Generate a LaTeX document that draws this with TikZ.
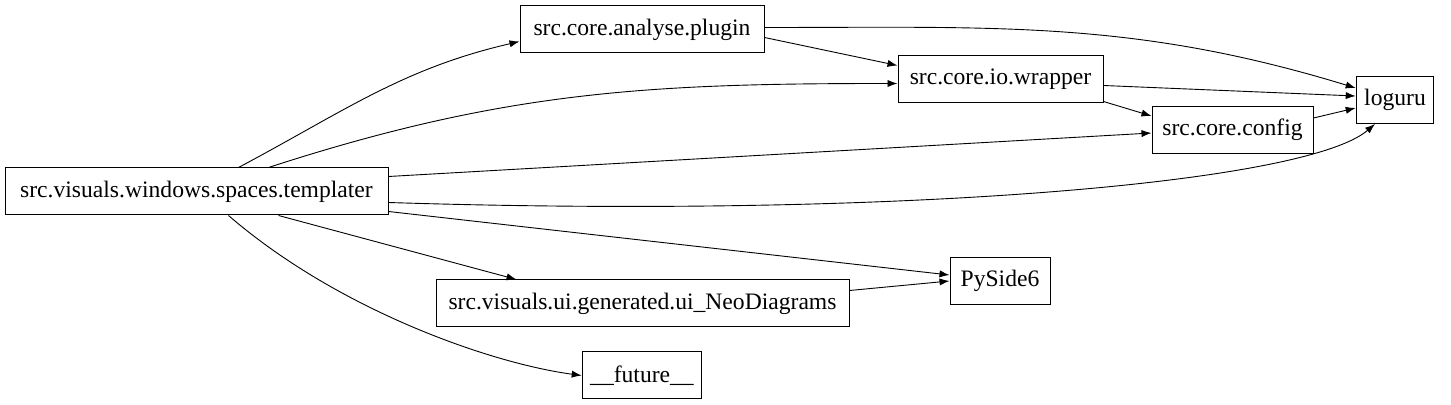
\documentclass[tikz,border=0pt]{standalone}
\usepackage{fontspec}
\setmainfont{Liberation Serif}
\usetikzlibrary{arrows.meta}
\begin{document}
\begin{tikzpicture}[x=0.5pt,y=-0.5pt,
  box/.style={draw,line width=0.5pt,minimum height=23.5pt,inner xsep=4pt,font=\fontsize{11.8}{13}\selectfont},
  e/.style={-{Latex[length=5pt,width=3.6pt]},line width=0.45pt}]
\useasboundingbox (0,0) rectangle (1451,405);
\node[box,minimum width=191.5pt] (t) at (196.5,191.5) {src.visuals.windows.spaces.templater};
\node[box,minimum width=122pt] (p) at (642,29.5) {src.core.analyse.plugin};
\node[box,minimum width=102.5pt] (w) at (1000.5,79.5) {src.core.io.wrapper};
\node[box,minimum width=80.5pt] (c) at (1232.5,130) {src.core.config};
\node[box,minimum width=37pt] (l) at (1395,100) {loguru};
\node[box,minimum width=50pt] (s) at (1000,281) {PySide6};
\node[box,minimum width=206.5pt] (u) at (642.5,303.5) {src.visuals.ui.generated.ui\_NeoDiagrams};
\node[box,minimum width=58pt] (f) at (642,375.5) {\_\_future\_\_};
\draw[e] ([xshift=21pt]t.north) to[out=28,in=193] ([yshift=-6pt]p.west);
\draw[e] ([xshift=36pt]t.north) to[out=18,in=180] ([yshift=-2pt]w.west);
\draw[e] ([yshift=7.5pt]t.east) -- ([yshift=-1.5pt]c.west);
\draw[e] ([yshift=-5.5pt]t.east) .. controls +(500,16) and +(-70,60) .. ([xshift=-10pt]l.south);
\draw[e] ([yshift=-10pt]t.east) -- ([yshift=3pt]s.west);
\draw[e] ([xshift=41pt]t.south) -- ([xshift=-63pt]u.north);
\draw[e] ([xshift=16pt]t.south) .. controls +(110,95) and +(-90,-12) .. (f.west);
\draw[e] ([yshift=-4pt]p.east) -- ([yshift=7pt]w.west);
\draw[e] ([yshift=1pt]p.east) to[out=0,in=163] ([yshift=6pt]l.west);
\draw[e] ([yshift=-3pt]w.east) -- ([yshift=2pt]l.west);
\draw[e] ([yshift=-11pt]w.east) -- ([yshift=7pt]c.west);
\draw[e] ([yshift=6pt]c.east) -- ([yshift=-4pt]l.west);
\draw[e] ([yshift=6.5pt]u.east) -- (s.west);
\end{tikzpicture}
\end{document}
